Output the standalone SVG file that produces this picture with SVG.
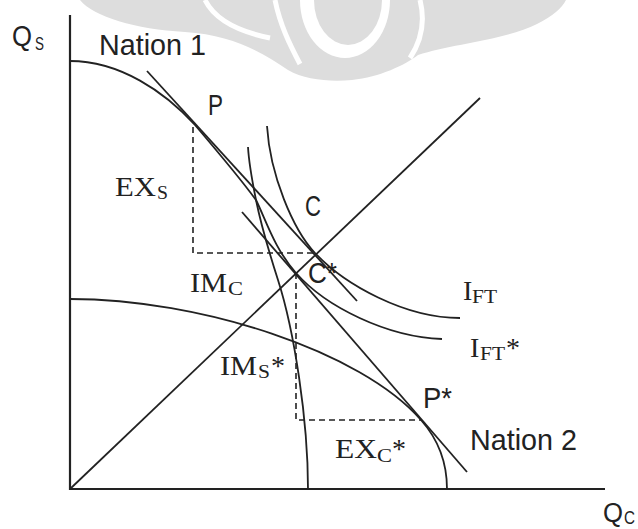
<svg xmlns="http://www.w3.org/2000/svg" width="638" height="529" viewBox="0 0 638 529">
<style>
.ln{fill:none;stroke:#222;stroke-width:1.8}
.ax{fill:none;stroke:#222;stroke-width:2.2}
.dash{fill:none;stroke:#222;stroke-width:1.6;stroke-dasharray:6 4}
.sans{font-family:"Liberation Sans",Arial,sans-serif;fill:#222;font-size:29px}
.serif{font-family:"Liberation Serif","Times New Roman",serif;fill:#222;font-size:28px}
.sub{font-size:19px}
.wm{fill:none;stroke:#fff;stroke-width:5}
</style>
<rect width="638" height="529" fill="#fff"/>
<g id="watermark" fill="#dddddd">
<path d="M80,0 C94,17 135,29 185,32 C232,35 262,52 288,70 C305,80 330,82 352,80 C380,77 405,65 418,55 C450,44 505,40 537,24 C553,16 562,8 566,0 Z"/>
<path fill="#fff" d="M300,0 A45,58 0 0 0 390,0 L382,0 A34,45 0 0 1 314,0 Z"/>
<path class="wm" d="M275,0 C280,25 290,45 300,64"/>
<path class="wm" d="M420,0 C425,20 422,40 410,58"/>
<path class="wm" d="M205,0 C215,20 240,32 270,38"/>
</g>
<g id="axes">
<path class="ax" d="M70,15 V489 H605"/>
</g>
<g id="nation1-ppf">
<path class="ln" d="M70,61 C120,61 165,92 195,125 C212,145 240,178 256,200 C260,220 270,255 278,280 C294,330 308,419 308,489"/>
</g>
<g id="nation2-ppf">
<path class="ln" d="M70,299 C200,299 361,351 421,420 C437,438 447,459 447,489"/>
</g>
<g id="ift">
<path class="ln" d="M267,126 C270,175 293,229.5 315,253 C345,285 405,318 460,318"/>
</g>
<g id="ift-star">
<path class="ln" d="M248,147 C249,165 253,185 256,200 C266,220 274,248 296,273 C326,307 387,337 442,339"/>
</g>
<g id="connectors">
<path class="ln" d="M147,71 L357,301"/>
<path class="ln" d="M242,212 L467,472"/>
<path class="ln" d="M70,489 L480,98"/>
<path class="dash" d="M193,127 V253 H315"/>
<path class="dash" d="M296,273 V420 H421"/>
</g>
<g id="labels">
<text class="sans" x="12" y="46" textLength="20" lengthAdjust="spacingAndGlyphs">Q</text>
<text class="sans" x="35" y="50" style="font-size:19px" textLength="9" lengthAdjust="spacingAndGlyphs">S</text>
<text class="sans" x="99" y="55" textLength="107" lengthAdjust="spacingAndGlyphs">Nation 1</text>
<text class="sans" x="208" y="115" textLength="15" lengthAdjust="spacingAndGlyphs">P</text>
<text class="sans" x="305" y="216" textLength="16" lengthAdjust="spacingAndGlyphs">C</text>
<text class="sans" x="308" y="283" textLength="29" lengthAdjust="spacingAndGlyphs">C*</text>
<text class="sans" x="423" y="408" textLength="29" lengthAdjust="spacingAndGlyphs">P*</text>
<text class="sans" x="470" y="450" textLength="107" lengthAdjust="spacingAndGlyphs">Nation 2</text>
<text class="sans" x="603" y="522" style="font-size:27px" textLength="20" lengthAdjust="spacingAndGlyphs">Q</text>
<text class="sans" x="624" y="524" style="font-size:19px" textLength="11" lengthAdjust="spacingAndGlyphs">C</text>
<text class="serif" x="115" y="196" textLength="41" lengthAdjust="spacingAndGlyphs">EX</text>
<text class="serif sub" x="157" y="199" textLength="11" lengthAdjust="spacingAndGlyphs">S</text>
<text class="serif" x="190" y="292" textLength="37" lengthAdjust="spacingAndGlyphs">IM</text>
<text class="serif sub" x="228" y="295" textLength="15" lengthAdjust="spacingAndGlyphs">C</text>
<text class="serif" x="220" y="375" textLength="37" lengthAdjust="spacingAndGlyphs">IM</text>
<text class="serif sub" x="258" y="378" textLength="12" lengthAdjust="spacingAndGlyphs">S</text>
<text class="serif" x="271" y="375">*</text>
<text class="serif" x="463" y="300">I</text>
<text class="serif sub" x="472" y="303" textLength="25" lengthAdjust="spacingAndGlyphs">FT</text>
<text class="serif" x="470" y="357">I</text>
<text class="serif sub" x="480" y="360" textLength="25" lengthAdjust="spacingAndGlyphs">FT</text>
<text class="serif" x="506" y="357">*</text>
<text class="serif" x="335" y="458" textLength="42" lengthAdjust="spacingAndGlyphs">EX</text>
<text class="serif sub" x="377" y="462" textLength="15" lengthAdjust="spacingAndGlyphs">C</text>
<text class="serif" x="392" y="458">*</text>
</g>
</svg>
